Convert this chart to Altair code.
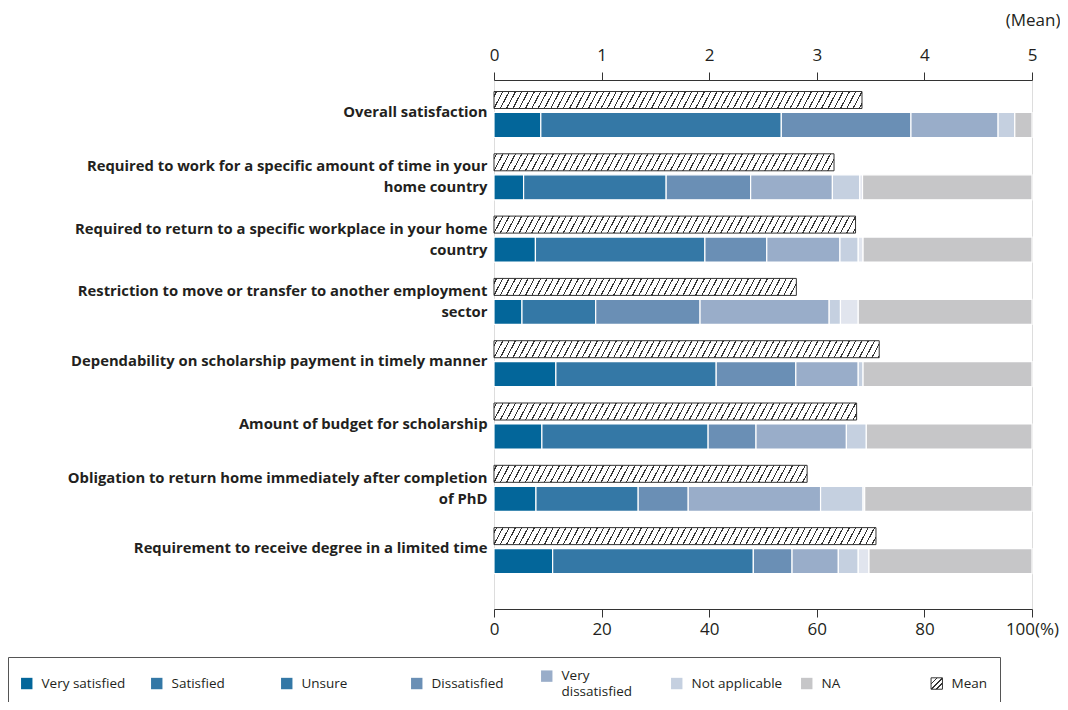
import altair as alt
import pandas as pd

FONT = "Open Sans"
TEXT = "#231f20"
LINE = "#333333"

items = [
    "Overall satisfaction",
    "Required to work for a specific amount of time in your home country",
    "Required to return to a specific workplace in your home country",
    "Restriction to move or transfer to another employment sector",
    "Dependability on scholarship payment in timely manner",
    "Amount of budget for scholarship",
    "Obligation to return home immediately after completion of PhD",
    "Requirement to receive degree in a limited time",
]
label_lines = [
    ["Overall satisfaction"],
    ["Required to work for a specific amount of time in your", "home country"],
    ["Required to return to a specific workplace in your home", "country"],
    ["Restriction to move or transfer to another employment", "sector"],
    ["Dependability on scholarship payment in timely manner"],
    ["Amount of budget for scholarship"],
    ["Obligation to return home immediately after completion", "of PhD"],
    ["Requirement to receive degree in a limited time"],
]

cats = ["Very satisfied", "Satisfied", "Unsure", "Dissatisfied",
        "Very dissatisfied", "Not applicable", "NA"]
very_satisfied = [8.7, 5.5, 7.7, 5.2, 11.5, 8.9, 7.8, 10.9]
satisfied = [44.7, 26.5, 31.5, 13.7, 29.8, 30.9, 19.0, 37.3]
unsure = [24.1, 15.7, 11.5, 19.4, 14.8, 8.9, 9.3, 7.2]
dissatisfied = [16.2, 15.2, 13.6, 24.0, 11.6, 16.8, 24.6, 8.6]
very_dissatisfied = [3.1, 5.1, 3.4, 2.1, 0.9, 3.7, 7.9, 3.7]
not_applicable = [0.0, 0.5, 0.9, 3.3, 0.0, 0.0, 0.3, 2.0]
na = [3.2, 31.5, 31.4, 32.3, 31.4, 30.8, 31.1, 30.3]
means = [3.42, 3.16, 3.36, 2.81, 3.58, 3.37, 2.91, 3.55]

bar_colors = ["#03669a", "#3478a6", "#6a8fb5", "#99adc9", "#c5d0e0", "#e1e5ee", "#c6c6c8"]
legend_labels = cats + ["Mean"]
legend_colors = ["#03669a", "#3478a6", "#3478a6", "#6a8fb5", "#99adc9", "#c5d0e0", "#c6c6c8"]
mean_ticks = [0, 1, 2, 3, 4, 5]
pct_ticks = [0, 20, 40, 60, 80, 100]

PW, PH = 538, 529
HATCH_H, BAR_H = 17, 25

series = [very_satisfied, satisfied, unsure, dissatisfied,
          very_dissatisfied, not_applicable, na]
rows = []
for i, it in enumerate(items):
    for j, c in enumerate(cats):
        rows.append({"item": it, "cat": c, "order": j, "pct": series[j][i]})
pct_df = pd.DataFrame(rows)
mean_df = pd.DataFrame({"item": items, "mean": means})

# label expression for wrapped y labels
expr = "datum.label"
for it, lines in reversed(list(zip(items, label_lines))):
    if len(lines) > 1:
        arr = "[" + ", ".join("'%s'" % l for l in lines) + "]"
        expr = "datum.label == '%s' ? %s : (%s)" % (it, arr, expr)
y_label_expr = expr
two_line_test = " || ".join("datum.label == '%s'" % it
                            for it, lines in zip(items, label_lines) if len(lines) > 1)


def hatch_gradient(w, h, k=0.53, period=6.3, lw=1.25, phase=2.0):
    L = w + k * h
    D = 1 + (k * h / w) ** 2
    s = L / (w * D)
    white, dark = "#ffffff", LINE
    stops = [alt.GradientStop(offset=0, color=white)]
    c = phase
    while c + lw < L:
        a = round(c / L, 5)
        b = round((c + lw) / L, 5)
        stops += [alt.GradientStop(offset=a, color=white),
                  alt.GradientStop(offset=a, color=dark),
                  alt.GradientStop(offset=b, color=dark),
                  alt.GradientStop(offset=b, color=white)]
        c += period
    stops.append(alt.GradientStop(offset=1, color=white))
    return alt.LinearGradient(gradient="linear", stops=stops,
                              x1=0, y1=0, x2=round(s, 5), y2=round(s * k * h / w, 5))


# legend swatch for "Mean": three diagonal lines
sw_stops = [(0, "#ffffff")]
for a, b in [(0.24, 0.31), (0.465, 0.535), (0.69, 0.76)]:
    sw_stops += [(a, "#ffffff"), (a, LINE), (b, LINE), (b, "#ffffff")]
sw_stops.append((1, "#ffffff"))
mean_swatch = ("{gradient: 'linear', x1: 0, y1: 0, x2: 1, y2: 1, stops: ["
               + ", ".join("{offset: %s, color: '%s'}" % (o, c) for o, c in sw_stops)
               + "]}")

NBSP = "\u00a0"
mean_label = "Mean" + NBSP * 15

yscale = alt.Scale(domain=items, paddingInner=0, paddingOuter=0.2455, align=0.126)

yaxis = alt.Axis(title=None, domain=False, ticks=False, labelFont=FONT,
                 labelFontSize=14.8, labelFontWeight="bold", labelColor=TEXT,
                 labelLimit=600, labelPadding=7, labelLineHeight=21,
                 labelExpr=y_label_expr,
                 labelOffset={"condition": {"test": two_line_test, "value": -10}, "value": -2})

pct_layer = alt.Chart(pct_df).transform_filter("datum.pct > 0").mark_bar(
    height=BAR_H, yOffset=10, stroke="white", strokeWidth=1.2
).encode(
    x=alt.X("pct:Q", stack="zero", scale=alt.Scale(domain=[0, 100], nice=False),
            axis=alt.Axis(orient="bottom", values=pct_ticks, title=None, grid=False,
                          labelFont=FONT, labelFontSize=17, labelColor=TEXT,
                          tickSize=8, tickColor=LINE, domainColor=LINE,
                          labelPadding=4, labelFlush=False, labelOverlap=False,
                          labelExpr="datum.value == 100 ? '100(%)' : datum.label")),
    y=alt.Y("item:N", sort=items, scale=yscale, axis=yaxis),
    fill=alt.Fill("cat:N", scale=alt.Scale(domain=cats, range=bar_colors), legend=None),
    order=alt.Order("order:Q", sort="ascending"),
)

hatch_layers = []
for i, it in enumerate(items):
    w = means[i] / 5 * PW
    ax = None
    if i == 0:
        ax = alt.Axis(orient="top", values=mean_ticks, format="d", grid=False,
                      labelFont=FONT, labelFontSize=17, labelColor=TEXT,
                      tickSize=8, tickColor=LINE, domainColor=LINE,
                      labelPadding=8, labelFlush=False, labelOverlap=False,
                      title="(Mean)", titleFont=FONT, titleFontSize=17,
                      titleFontWeight="normal", titleColor=TEXT,
                      titleX=566, titleY=-60, titleAlign="right",
                      titleBaseline="middle", titleAngle=0)
    layer = alt.Chart(mean_df).transform_filter(alt.datum.item == it).mark_bar(
        height=HATCH_H, yOffset=-15, fill=hatch_gradient(w, HATCH_H),
        stroke=LINE, strokeWidth=1
    ).encode(
        x=alt.X("mean:Q", scale=alt.Scale(domain=[0, 5], nice=False), axis=ax),
        y=alt.Y("item:N", sort=items, scale=yscale, axis=yaxis),
    )
    hatch_layers.append(layer)

legend_layer = alt.Chart(pd.DataFrame({"cat": legend_labels})).transform_filter(
    "false"
).mark_square(opacity=1, filled=True, size=140).encode(
    color=alt.Color(
        "cat:N",
        scale=alt.Scale(domain=legend_labels, range=legend_colors + [{"expr": mean_swatch}]),
        legend=alt.Legend(
            orient="none", legendX=-486, legendY=577, direction="horizontal",
            columns=8, gridAlign="all", columnPadding=16, symbolType="square",
            symbolSize=130, labelFont=FONT, labelFontSize=13.5,
            symbolStrokeColor={"expr": "datum.value == 'Mean' ? '#333333' : 'transparent'"},
            symbolStrokeWidth=1,
            labelColor=TEXT, labelOffset=8, padding=12, strokeColor="#555555",
            title=None, labelLimit=300,
            labelExpr=("datum.label == 'Very dissatisfied' ? ['Very', 'dissatisfied'] : "
                       "(datum.label == 'Mean' ? '%s' : datum.label)" % mean_label),
        ),
    )
)

chart = alt.layer(pct_layer, *hatch_layers, legend_layer).resolve_scale(
    x="independent"
).properties(
    width=PW, height=PH,
    padding={"left": 486, "top": 72, "right": 28, "bottom": 93},
    autosize=alt.AutoSizeParams(type="none"),
).configure_view(stroke=None).configure(
    background="white",
    style={"guide-label": {"lineHeight": 16}},
)

chart.save("out.html", embed_options={"renderer": "svg", "actions": False})
